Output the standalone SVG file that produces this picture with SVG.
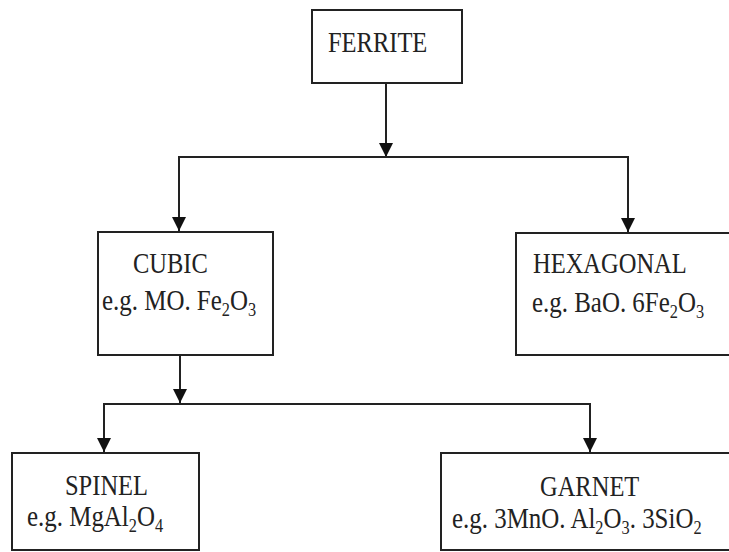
<svg xmlns="http://www.w3.org/2000/svg" width="729" height="552" viewBox="0 0 729 552">
<style>
.box{fill:#fff;stroke:#222;stroke-width:2}
.t{font-family:"Liberation Serif","Times New Roman",serif;font-size:29px;fill:#222}
.s{font-size:19px}
.c{fill:none;stroke:#222;stroke-width:2}
</style>
<defs>
<marker id="ah" markerWidth="14" markerHeight="16" refX="14" refY="7" orient="auto" markerUnits="userSpaceOnUse" viewBox="0 0 14 14">
<path d="M0,0 L14,7 L0,14 Z" fill="#111"/>
</marker>
</defs>
<rect width="729" height="552" fill="#fff"/>
<g id="connectors">
<line class="c" x1="386" y1="83" x2="386" y2="157" marker-end="url(#ah)"/>
<polyline class="c" points="179,230 179,157 628,157 628,230"/>
<line class="c" x1="179" y1="157" x2="179" y2="231" marker-end="url(#ah)"/>
<line class="c" x1="628" y1="157" x2="628" y2="232" marker-end="url(#ah)"/>
<line class="c" x1="180" y1="355" x2="180" y2="403" marker-end="url(#ah)"/>
<polyline class="c" points="104,452 104,404 590,404 590,452"/>
<line class="c" x1="104" y1="404" x2="104" y2="452" marker-end="url(#ah)"/>
<line class="c" x1="590" y1="404" x2="590" y2="452" marker-end="url(#ah)"/>
</g>
<g id="ferrite">
<rect class="box" x="312" y="10" width="150" height="73"/>
<text class="t" transform="translate(328,52) scale(0.845,1)">FERRITE</text>
</g>
<g id="cubic">
<rect class="box" x="98" y="232" width="175" height="123"/>
<text class="t" transform="translate(133,273) scale(0.845,1)">CUBIC</text>
<text class="t" transform="translate(102,310) scale(0.86,1)">e.g. MO. Fe<tspan class="s" dy="6">2</tspan><tspan dy="-6">O</tspan><tspan class="s" dy="6">3</tspan></text>
</g>
<g id="hexagonal">
<rect class="box" x="516" y="233" width="224" height="122"/>
<text class="t" transform="translate(533,273) scale(0.845,1)">HEXAGONAL</text>
<text class="t" transform="translate(532,312) scale(0.86,1)">e.g. BaO. 6Fe<tspan class="s" dy="6">2</tspan><tspan dy="-6">O</tspan><tspan class="s" dy="6">3</tspan></text>
</g>
<g id="spinel">
<rect class="box" x="12" y="453" width="187" height="97"/>
<text class="t" transform="translate(65,495) scale(0.845,1)">SPINEL</text>
<text class="t" transform="translate(27,526) scale(0.86,1)">e.g. MgAl<tspan class="s" dy="6">2</tspan><tspan dy="-6">O</tspan><tspan class="s" dy="6">4</tspan></text>
</g>
<g id="garnet">
<rect class="box" x="441" y="453" width="299" height="97"/>
<text class="t" transform="translate(540,496) scale(0.845,1)">GARNET</text>
<text class="t" transform="translate(452,528) scale(0.86,1)">e.g. 3MnO. Al<tspan class="s" dy="6">2</tspan><tspan dy="-6">O</tspan><tspan class="s" dy="6">3</tspan><tspan dy="-6">. 3SiO</tspan><tspan class="s" dy="6">2</tspan></text>
</g>
</svg>
